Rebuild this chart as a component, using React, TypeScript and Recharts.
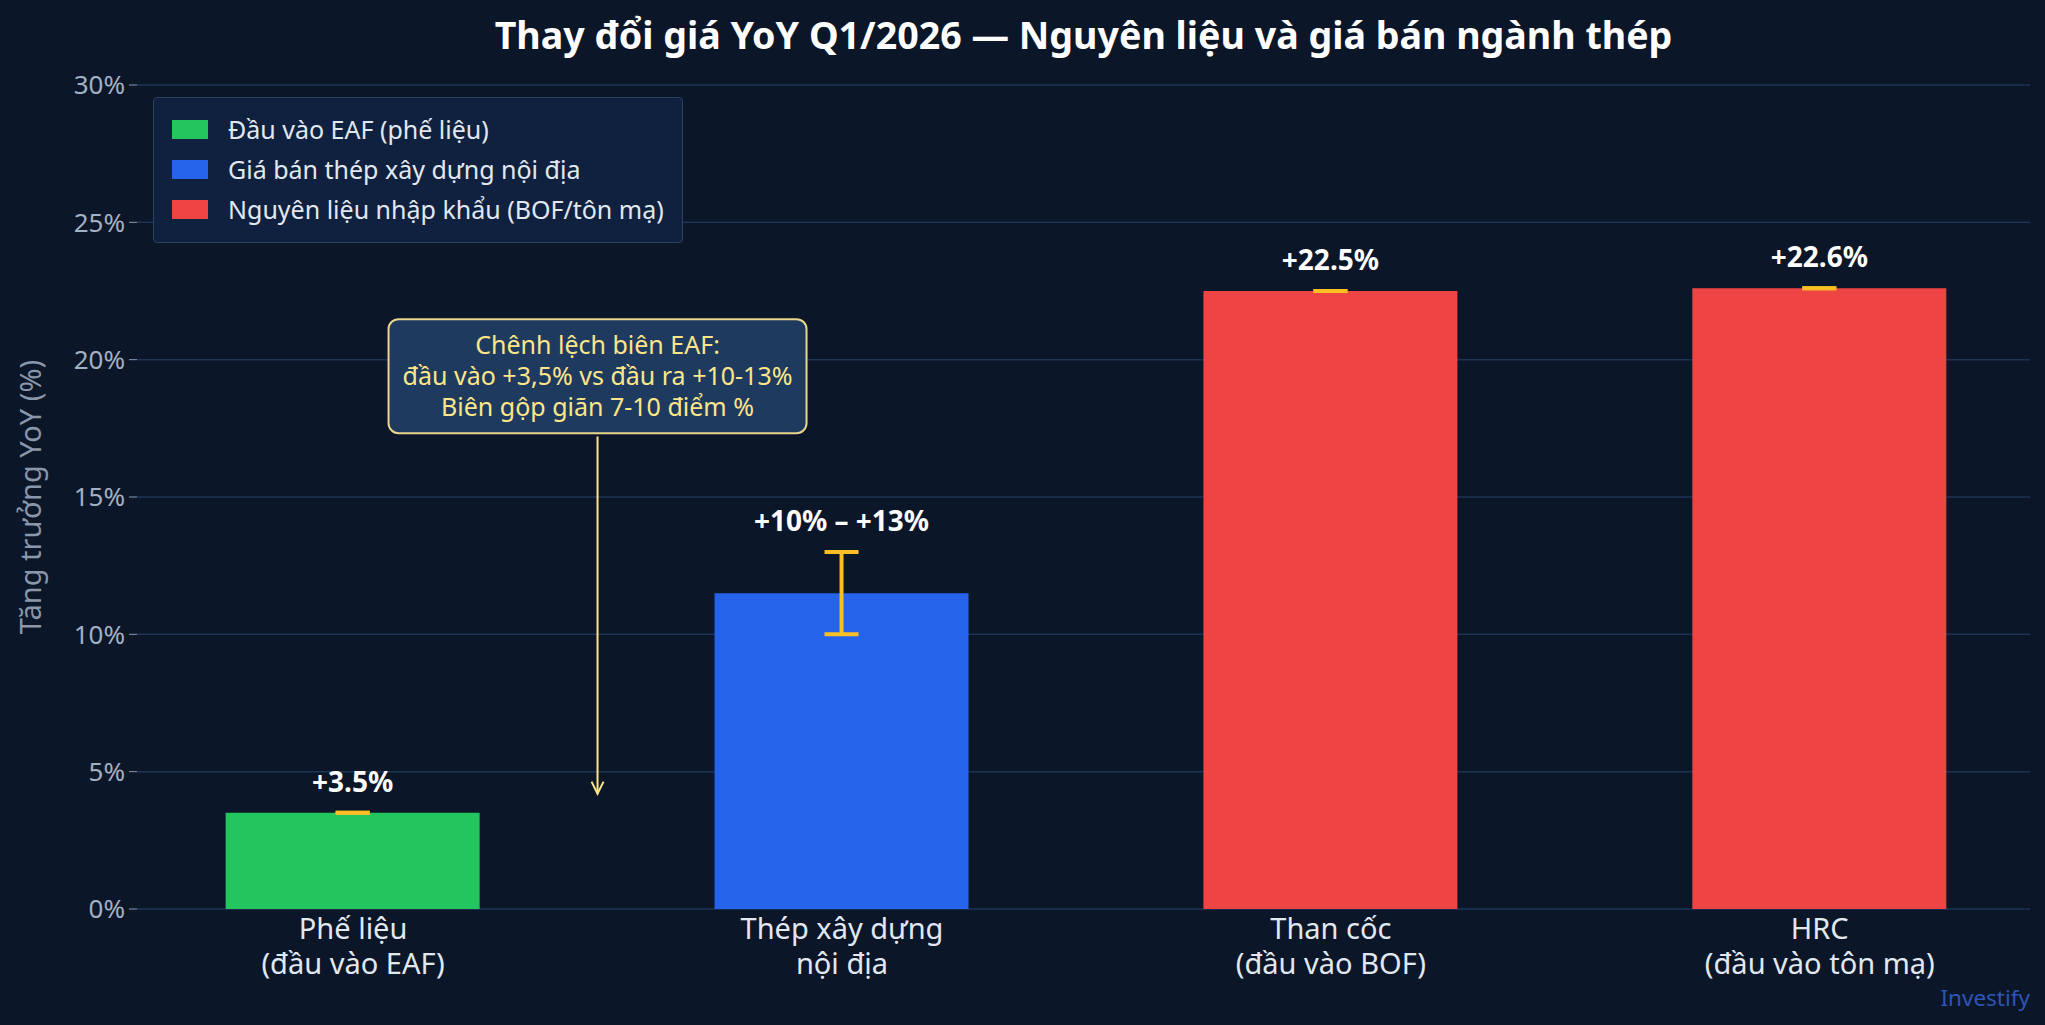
import {
  BarChart, Bar, XAxis, YAxis, CartesianGrid, Cell, ErrorBar,
  LabelList, Legend, ReferenceDot, ReferenceLine,
} from 'recharts'

const CATEGORIES = [
  ['Phế liệu', '(đầu vào EAF)'],
  ['Thép xây dựng', 'nội địa'],
  ['Than cốc', '(đầu vào BOF)'],
  ['HRC', '(đầu vào tôn mạ)'],
]
const POSITIONS = [0, 1, 2, 3]
const VALUES = [3.5, 11.5, 22.5, 22.6]
const ERR_LOW = [0, 1.5, 0, 0]
const ERR_HIGH = [0, 1.5, 0, 0]
const BAR_LABELS = ['+3.5%', '+10% – +13%', '+22.5%', '+22.6%']
const GROUPS = ['eaf', 'noidia', 'nhapkhau', 'nhapkhau']
const Y_TICKS = [0, 5, 10, 15, 20, 25, 30]

const LEGEND = [
  { key: 'eaf', label: 'Đầu vào EAF (phế liệu)' },
  { key: 'noidia', label: 'Giá bán thép xây dựng nội địa' },
  { key: 'nhapkhau', label: 'Nguyên liệu nhập khẩu (BOF/tôn mạ)' },
]

const NOTE_LINES = [
  'Chênh lệch biên EAF:',
  'đầu vào +3,5% vs đầu ra +10-13%',
  'Biên gộp giãn 7-10 điểm %',
]
const NOTE_X = 0.5
const NOTE_Y = 19.4
const ARROW_FROM = 17.2
const ARROW_TO = 4.2

const COLORS: Record<string, string> = {
  eaf: '#22c55e',
  noidia: '#2563eb',
  nhapkhau: '#ef4444',
}

const BG = '#0b1628'
const FONT = '"Noto Sans", "DejaVu Sans", sans-serif'
const NOTE_COLOR = '#fde68a'

const rows = POSITIONS.map((pos, i) => ({
  pos,
  value: VALUES[i],
  err: [ERR_LOW[i], ERR_HIGH[i]],
  label: BAR_LABELS[i],
  group: GROUPS[i],
}))

function XTick(props: any) {
  const { x, y, payload } = props
  const lines = CATEGORIES[payload.value] ?? []
  return (
    <text x={x} y={y} textAnchor="middle" fill="#e2e8f0" fontSize={29} fontFamily={FONT}>
      {lines.map((l, i) => (
        <tspan key={i} x={x} dy={i === 0 ? 22 : 35}>{l}</tspan>
      ))}
    </text>
  )
}

function BarTopLabel(props: any) {
  const { x, y, width, height, index } = props
  const row = rows[index]
  if (!row) return null
  const pxPerUnit = row.value ? height / row.value : 0
  const top = y - row.err[1] * pxPerUnit
  return (
    <text
      x={x + width / 2} y={top - 21} textAnchor="middle"
      fill="#ffffff" fontSize={28} fontWeight={700} fontFamily={FONT}
    >
      {row.label}
    </text>
  )
}

function NoteBox(props: any) {
  const { cx, cy } = props
  const w = 418
  const h = 114
  return (
    <g>
      <rect
        x={cx - w / 2} y={cy - h / 2} width={w} height={h} rx={10} ry={10}
        fill="#1e3a5f" stroke="#e9d58c" strokeWidth={2}
      />
      {NOTE_LINES.map((l, i) => (
        <text
          key={i} x={cx} y={cy - 32 + i * 31} textAnchor="middle" dominantBaseline="central"
          fill={NOTE_COLOR} fontSize={25} fontFamily={FONT}
        >
          {l}
        </text>
      ))}
    </g>
  )
}

function Arrow(props: any) {
  const { x1, y1, x2, y2 } = props
  return (
    <g stroke={NOTE_COLOR} strokeWidth={2} fill="none">
      <line x1={x1} y1={y1} x2={x2} y2={y2} />
      <polyline points={`${x2 - 6},${y2 - 12} ${x2},${y2} ${x2 + 6},${y2 - 12}`} />
    </g>
  )
}

function LegendBox() {
  return (
    <div
      style={{
        background: '#10213f', border: '1.5px solid #2b4263', borderRadius: 4,
        padding: '11px 18px 13px 18px', fontFamily: FONT, fontSize: 25, color: '#e2e8f0',
      }}
    >
      {LEGEND.map((item) => (
        <div key={item.key} style={{ display: 'flex', alignItems: 'center', height: 40 }}>
          <span style={{ width: 36, height: 19, background: COLORS[item.key], marginRight: 20 }} />
          <span>{item.label}</span>
        </div>
      ))}
    </div>
  )
}

export default function App() {
  return (
    <div style={{ position: 'fixed', left: 0, top: 0, width: 2045, height: 1025, background: BG }}>
      <div
        style={{
          position: 'absolute', left: 137, width: 1893, top: 11, textAlign: 'center',
          color: '#ffffff', fontFamily: FONT, fontWeight: 700, fontSize: 37.6, lineHeight: '48px',
        }}
      >
        Thay đổi giá YoY Q1/2026 — Nguyên liệu và giá bán ngành thép
      </div>
      <BarChart
        width={2045} height={1025} data={rows}
        margin={{ top: 85, right: 15, bottom: 0, left: 0 }}
      >
        <CartesianGrid vertical={false} stroke="#1e3356" strokeWidth={1.5} />
        <XAxis
          type="number" dataKey="pos" domain={[-0.442, 3.43]} ticks={POSITIONS}
          interval={0} height={116} axisLine={false} tickLine={false}
          tick={<XTick />} allowDataOverflow
        />
        <YAxis
          domain={[0, 30]} ticks={Y_TICKS} width={137} axisLine={false}
          tickSize={8} tickMargin={4} tickLine={{ stroke: '#8a9ab0' }}
          tickFormatter={(v) => `${v}%`}
          tick={{ fill: '#a3b0c2', fontSize: 26, fontFamily: FONT }}
          label={{
            content: (p: any) => {
              const vb = p.viewBox
              const cy = vb.y + vb.height / 2
              return (
                <text
                  x={29} y={cy} transform={`rotate(-90 29 ${cy})`} textAnchor="middle"
                  dominantBaseline="central" fill="#8a97aa" fontSize={29} fontFamily={FONT}
                >
                  Tăng trưởng YoY (%)
                </text>
              )
            },
          }}
        />
        <Legend
          layout="vertical" align="center" verticalAlign="middle"
          wrapperStyle={{ left: 153, top: 97, width: 'auto', height: 'auto' }}
          content={() => <LegendBox />}
        />
        <Bar dataKey="value" barSize={254} isAnimationActive={false}>
          {rows.map((r, i) => (
            <Cell key={`c-${i}`} fill={COLORS[r.group]} />
          ))}
          <ErrorBar dataKey="err" direction="y" width={17} strokeWidth={4} stroke="#fbbf24" />
          <LabelList dataKey="value" content={<BarTopLabel />} />
        </Bar>
        <ReferenceLine
          segment={[{ x: NOTE_X, y: ARROW_FROM }, { x: NOTE_X, y: ARROW_TO }]}
          shape={<Arrow />}
        />
        <ReferenceDot x={NOTE_X} y={NOTE_Y} r={0} shape={<NoteBox />} />
      </BarChart>
      <div
        style={{
          position: 'absolute', right: 15, top: 982, color: '#2d55b5',
          fontFamily: FONT, fontSize: 22.5,
        }}
      >
        Investify
      </div>
    </div>
  )
}
